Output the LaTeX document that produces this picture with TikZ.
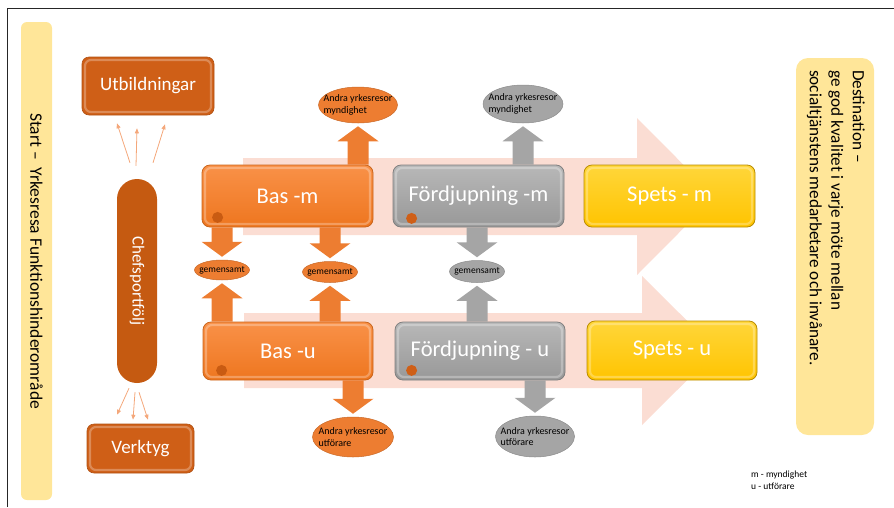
\documentclass[tikz,border=0pt]{standalone}
\usepackage{fontspec}
\setmainfont{Carlito}
\usetikzlibrary{shapes.geometric,calc,arrows.meta}
\definecolor{barY}{HTML}{FFE699}
\definecolor{darkO}{HTML}{CF5F17}
\definecolor{chefO}{HTML}{C55A11}
\definecolor{arrO}{HTML}{ED7D31}
\definecolor{arrG}{HTML}{A5A5A5}
\definecolor{pinkA}{HTML}{FBDDD3}
\definecolor{thinO}{HTML}{F4A77A}
\definecolor{oTop}{HTML}{F99148}
\definecolor{oBot}{HTML}{EE761F}
\definecolor{oDraw}{HTML}{C9651C}
\definecolor{gTop}{HTML}{B8B8B8}
\definecolor{gBot}{HTML}{989898}
\definecolor{gDraw}{HTML}{7F7F7F}
\definecolor{yTop}{HTML}{FFD63A}
\definecolor{yBot}{HTML}{FFC400}
\definecolor{yDraw}{HTML}{B88C00}
\definecolor{dotO}{HTML}{C95B12}
\newcommand\uparr[3]{\fill[#1] let \p1=#2, \p2=#3 in
  (\x2-10.5pt,\y1) -- (\x2-10.5pt,\y2-18pt) -- (\x2-20.5pt,\y2-18pt) -- (\x2,\y2-3pt)
  -- (\x2+20.5pt,\y2-18pt) -- (\x2+10.5pt,\y2-18pt) -- (\x2+10.5pt,\y1) -- cycle;}
\newcommand\downarr[3]{\fill[#1] let \p1=#2, \p2=#3 in
  (\x2-10.5pt,\y1) -- (\x2-10.5pt,\y2+18pt) -- (\x2-20.5pt,\y2+18pt) -- (\x2,\y2+3pt)
  -- (\x2+20.5pt,\y2+18pt) -- (\x2+10.5pt,\y2+18pt) -- (\x2+10.5pt,\y1) -- cycle;}
\tikzset{
  bevel/.style={path picture={\draw[white, opacity=0.28, line width=2.2pt, rounded corners=6pt]
     ([shift={(3pt,3pt)}]path picture bounding box.south west) rectangle
     ([shift={(-3pt,-3pt)}]path picture bounding box.north east);}},
  ybar/.style={fill=barY, rounded corners=6pt, inner sep=0pt},
  dbox/.style={fill=darkO, draw=darkO!85!black, line width=0.6pt, rounded corners=7pt, text=white, font=\fontsize{19}{23}\selectfont, inner sep=0pt, bevel},
  obox/.style={rounded corners=8pt, top color=oTop, bottom color=oBot, draw=oDraw, line width=0.8pt, text=white, font=\fontsize{22.5}{27}\selectfont, inner sep=0pt, bevel},
  gbox/.style={obox, top color=gTop, bottom color=gBot, draw=gDraw},
  ybox/.style={obox, top color=yTop, bottom color=yBot, draw=yDraw},
  oell/.style={ellipse, fill=arrO, draw=arrO!85!black, line width=0.5pt, inner sep=0pt},
  gell/.style={ellipse, fill=arrG, draw=arrG!85!black, line width=0.5pt, inner sep=0pt},
  smalltxt/.style={align=left, inner sep=0pt, font=\fontsize{10}{11.5}\selectfont},
  gemtxt/.style={inner sep=0pt, font=\fontsize{9.5}{11}\selectfont},
  dot/.style={circle, fill=dotO, inner sep=0pt, minimum size=11pt},
  thinarr/.style={thinO, line width=0.8pt, -{Triangle[length=5pt,width=4pt]}},
}
\begin{document}
\begin{tikzpicture}[x=1pt,y=-1pt]
\useasboundingbox (0,0) rectangle (894,507);
% frame
\draw[line width=1.8pt, black!85] (7.5,507) -- (7.5,8.5) -- (894,8.5);
% side bars
\node[ybar, minimum width=31pt, minimum height=478pt] (startbar) at (36.5,261) {};
\node[rotate=-90, inner sep=0pt, font=\fontsize{17.5}{21}\selectfont] (starttxt) at (startbar) {Start –\ \ Yrkesresa Funktionshinderområde};
\node[ybar, rounded corners=12pt, minimum width=78pt, minimum height=377pt] (destbar) at (835,246.5) {};
\node[rotate=-90, anchor=north west, align=left, inner sep=0pt, font=\fontsize{17.2}{21.5}\selectfont] (desttxt) at (865,70) {Destination –\\ge god kvalitet i varje möte mellan\\socialtjänstens medarbetare och invånare.};
% pink background arrows
\fill[pinkA] (243,158) -- (637,158) -- (637,118) -- (715,196.5) -- (637,275) -- (637,235) -- (243,235) -- cycle;
\fill[pinkA] (244,313) -- (642,313) -- (642,276) -- (717,350.5) -- (642,425) -- (642,388) -- (244,388) -- cycle;
% left column
\node[dbox, minimum width=132pt, minimum height=58pt] (utb) at (148,86) {Utbildningar};
\node[fill=chefO, rounded corners=20pt, minimum width=40pt, minimum height=204pt, inner sep=0pt] (chef) at (137,281) {};
\node[rotate=-90, text=white, inner sep=0pt, font=\fontsize{17}{20}\selectfont] (cheftxt) at (chef) {Chefsportfölj};
\node[dbox, minimum width=107pt, minimum height=49pt] (verk) at (140.5,448.5) {Verktyg};
\draw[thinarr] ([xshift=-7pt,yshift=16pt]chef.north) -- ([xshift=-31pt,yshift=-8pt]utb.south);
\draw[thinarr] ([xshift=-1pt,yshift=13pt]chef.north) -- ([xshift=-11pt,yshift=-13pt]utb.south);
\draw[thinarr] ([xshift=16pt,yshift=16pt]chef.north) -- ([xshift=17pt,yshift=-9pt]utb.south);
\draw[thinarr] ([xshift=-8pt,yshift=-5pt]chef.south) -- ([xshift=-23.5pt,yshift=9pt]verk.north);
\draw[thinarr] ([xshift=-2pt,yshift=-9pt]chef.south) -- ([xshift=-7.5pt,yshift=4pt]verk.north);
\draw[thinarr] ([xshift=2pt,yshift=-9pt]chef.south) -- ([xshift=7.5pt,yshift=4pt]verk.north);
% main boxes
\node[obox, minimum width=171pt, minimum height=62pt] (basm) at (287.5,196) {Bas -m};
\node[gbox, minimum width=171pt, minimum height=62pt] (fordm) at (478.5,196) {Fördjupning -m};
\node[ybox, minimum width=171pt, minimum height=62pt] (spetsm) at (669.5,196) {Spets - m};
\node[obox, minimum width=170pt, minimum height=58pt] (basu) at (288,351) {Bas -u};
\node[gbox, minimum width=170pt, minimum height=58pt] (fordu) at (480,351) {Fördjupning - u};
\node[ybox, minimum width=170pt, minimum height=59pt] (spetsu) at (672,350.5) {Spets - u};
\node[dot] (d1) at ([xshift=16pt,yshift=10pt]basm.south west) {};
\node[dot, fill=darkO] (d2) at ([xshift=19pt,yshift=9pt]fordm.south west) {};
\node[dot] (d3) at ([xshift=19pt,yshift=10pt]basu.south west) {};
\node[dot, fill=darkO] (d4) at ([xshift=17pt,yshift=10pt]fordu.south west) {};
% ellipses
\node[oell, minimum width=79pt, minimum height=36pt] (amo) at (358,105) {};
\node[smalltxt] (amot) at (amo) {Andra yrkesresor\\myndighet};
\node[gell, minimum width=80pt, minimum height=38pt] (amg) at (523,104) {};
\node[smalltxt] (amgt) at (amg) {Andra yrkesresor\\myndighet};
\node[oell, minimum width=81pt, minimum height=40pt] (auo) at (353,437) {};
\node[smalltxt] (auot) at (auo) {Andra yrkesresor\\utförare};
\node[gell, minimum width=79pt, minimum height=41pt] (aug) at (535,436.5) {};
\node[smalltxt] (augt) at (aug) {Andra yrkesresor\\utförare};
\node[oell, minimum width=55pt, minimum height=20pt] (gem1) at (222,270) {};
\node[gemtxt] at (gem1) {gemensamt};
\node[oell, minimum width=55pt, minimum height=21pt] (gem2) at (330,272) {};
\node[gemtxt] at (gem2) {gemensamt};
\node[gell, minimum width=55pt, minimum height=22pt] (gem3) at (477,271.5) {};
\node[gemtxt] at (gem3) {gemensamt};
% block arrows
\uparr{arrO}{(basm.north)}{(amo.south)}
\uparr{arrG}{(fordm.north)}{(amg.south)}
\downarr{arrO}{(basm.south)}{(gem1.north)}
\downarr{arrO}{(basm.south)}{(gem2.north)}
\downarr{arrG}{(fordm.south)}{(gem3.north)}
\uparr{arrO}{(basu.north)}{(gem1.south)}
\uparr{arrO}{(basu.north)}{(gem2.south)}
\uparr{arrG}{(fordu.north)}{(gem3.south)}
\downarr{arrO}{(basu.south)}{(auo.north)}
\downarr{arrG}{(fordu.south)}{(aug.north)}
% legend
\node[anchor=west, align=left, inner sep=0pt, font=\fontsize{9.5}{12}\selectfont] (legend) at (751,480) {m - myndighet\\u - utförare};
\end{tikzpicture}
\end{document}
